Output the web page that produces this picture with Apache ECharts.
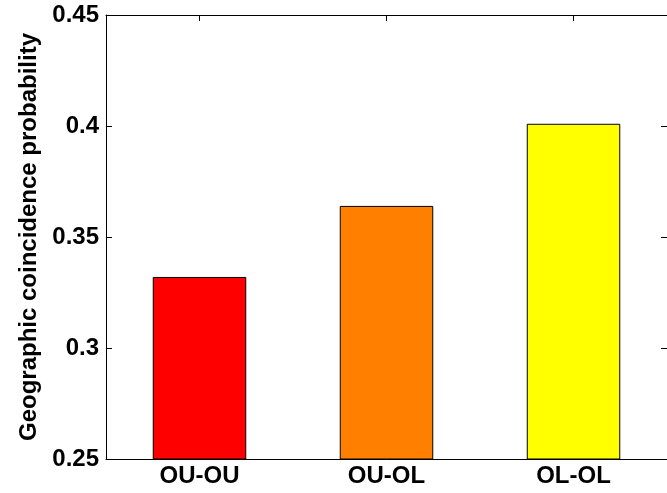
<!DOCTYPE html>
<html>
<head>
<meta charset="utf-8">
<script src="https://cdn.jsdelivr.net/npm/echarts@6/dist/echarts.min.js"></script>
<style>
  html, body { margin: 0; padding: 0; background: #fff; }
  #chart { width: 667px; height: 493px; }
</style>
</head>
<body>
<div id="chart"></div>
<script>
const categories = ["OU-OU", "OU-OL", "OL-OL"];
const probValues = [0.332, 0.364, 0.401];
const barColors = ["#ff0000", "#ff8000", "#ffff00"];

const FONT = "Liberation Sans";

const chart = echarts.init(document.getElementById("chart"));

const option = {
  animation: false,
  backgroundColor: "#ffffff",
  grid: { left: 106, right: -3, top: 15, bottom: 34 },
  xAxis: [
    {
      type: "category",
      data: categories,
      axisLine: { lineStyle: { color: "#000", width: 1 } },
      axisTick: { show: true, inside: true, alignWithLabel: true, length: 6, lineStyle: { color: "#000" } },
      axisLabel: { color: "#000", fontFamily: FONT, fontWeight: "bold", fontSize: 24, margin: 5 },
    },
    {
      type: "category",
      position: "top",
      data: categories,
      axisLine: { lineStyle: { color: "#000", width: 1 } },
      axisTick: { show: true, inside: true, alignWithLabel: true, length: 6, lineStyle: { color: "#000" } },
      axisLabel: { show: false },
    },
  ],
  yAxis: [
    {
      type: "value",
      min: 0.25,
      max: 0.45,
      interval: 0.05,
      name: "Geographic coincidence probability",
      nameLocation: "middle",
      nameGap: 63,
      nameTextStyle: { color: "#000", fontFamily: FONT, fontWeight: "bold", fontSize: 24 },
      axisLine: { show: true, lineStyle: { color: "#000", width: 1 } },
      axisTick: { show: true, inside: true, length: 6, lineStyle: { color: "#000" } },
      axisLabel: { color: "#000", fontFamily: FONT, fontWeight: "bold", fontSize: 24, margin: 7 },
      splitLine: { show: false },
    },
    {
      type: "value",
      position: "right",
      min: 0.25,
      max: 0.45,
      interval: 0.05,
      axisLine: { show: true, lineStyle: { color: "#000", width: 1 } },
      axisTick: { show: true, inside: true, length: 6, lineStyle: { color: "#000" } },
      axisLabel: { show: false },
      splitLine: { show: false },
    },
  ],
  series: [
    {
      type: "bar",
      xAxisIndex: 0,
      yAxisIndex: 0,
      barWidth: "50%",
      data: probValues.map((v, i) => ({
        value: v,
        itemStyle: { color: barColors[i], borderColor: "#000", borderWidth: 1 },
      })),
    },
  ],
};

chart.setOption(option);
</script>
</body>
</html>
